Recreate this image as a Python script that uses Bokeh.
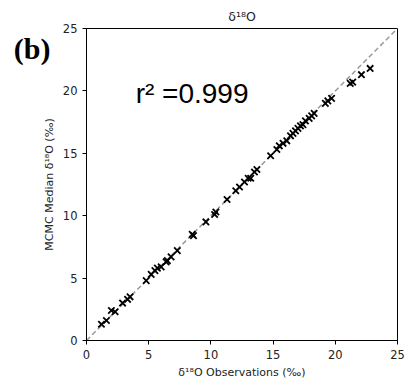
from bokeh.plotting import figure
from bokeh.models import Label, Range1d, FixedTicker, LinearAxis
from bokeh.embed import file_html
from bokeh.resources import INLINE

obs = [1.2, 1.6, 2.0, 2.3, 2.9, 3.3, 3.5, 4.8, 5.2, 5.5, 5.7, 6.0, 6.4, 6.5, 6.8, 7.3,
       8.5, 8.6, 9.6, 10.3, 10.4, 11.3, 12.0, 12.3, 12.7, 13.0, 13.2, 13.5, 13.7,
       14.8, 15.3, 15.5, 15.8, 16.1, 16.4, 16.6, 16.8, 17.0, 17.2, 17.4, 17.6, 17.9,
       18.1, 18.3, 19.2, 19.4, 19.7, 21.2, 21.4, 22.1, 22.8]
mcmc = [1.3, 1.6, 2.4, 2.3, 3.0, 3.3, 3.5, 4.8, 5.3, 5.6, 5.8, 5.9, 6.3, 6.4, 6.7, 7.2,
        8.5, 8.4, 9.5, 10.1, 10.3, 11.3, 12.0, 12.3, 12.7, 13.0, 13.0, 13.5, 13.7,
        14.8, 15.3, 15.6, 15.8, 16.0, 16.4, 16.6, 16.8, 17.0, 17.2, 17.3, 17.6, 17.8,
        18.0, 18.2, 19.0, 19.2, 19.4, 20.6, 20.7, 21.3, 21.8]
line_pts = [0, 25]
ticks = [0, 5, 10, 15, 20, 25]

p = figure(width=411, height=383, output_backend="svg", toolbar_location=None,
           x_range=Range1d(0, 25), y_range=Range1d(0, 25),
           min_border_left=86, min_border_right=14, min_border_top=28, min_border_bottom=43,
           title="δ¹⁸O")
p.title.align = "center"
p.title.text_font = "DejaVu Sans"
p.title.text_font_size = "12.5px"
p.title.text_font_style = "normal"
p.title.text_color = "#222222"
p.title.offset = 0

p.grid.visible = False
p.outline_line_color = "black"
p.outline_line_width = 1
p.background_fill_color = "white"
p.border_fill_color = "white"

for ax in (p.xaxis, p.yaxis):
    ax.ticker = FixedTicker(ticks=ticks)
    ax.minor_tick_line_color = None
    ax.major_tick_out = 4
    ax.major_tick_in = 0
    ax.axis_line_color = "black"
    ax.major_label_text_font = "DejaVu Sans"
    ax.major_label_text_font_size = "11.5px"
    ax.major_label_text_color = "#222222"
    ax.axis_label_text_font = "DejaVu Sans"
    ax.axis_label_text_font_size = "11px"
    ax.axis_label_text_font_style = "normal"
    ax.axis_label_text_color = "#222222"
    ax.axis_label_standoff = 4

p.xaxis.axis_label = "δ¹⁸O Observations (‰)"
p.yaxis.axis_label = "MCMC Median δ¹⁸O (‰)"

# panel tag "(b)" drawn as the single tick label of an extra, otherwise invisible left axis
tag_axis = LinearAxis(ticker=FixedTicker(ticks=[23.4]),
                      major_label_overrides={23.4: "(b)"},
                      major_label_orientation="horizontal",
                      major_label_text_font="Liberation Serif",
                      major_label_text_font_style="bold",
                      major_label_text_font_size="30px",
                      major_label_text_color="black",
                      major_label_standoff=-17,
                      axis_line_color=None, major_tick_line_color=None,
                      minor_tick_line_color=None)
p.add_layout(tag_axis, "left")

p.line(line_pts, line_pts, line_color="#999999", line_dash="5 3", line_width=1.5)
p.scatter(obs, mcmc, marker="x", size=9, line_color="black", line_width=1.8)

p.add_layout(Label(x=3.95, y=19.8, text="r² =0.999", text_font="Liberation Sans",
                   text_font_size="28px", text_color="black", text_baseline="alphabetic"))

open("out.html", "w").write(file_html(p, INLINE))
